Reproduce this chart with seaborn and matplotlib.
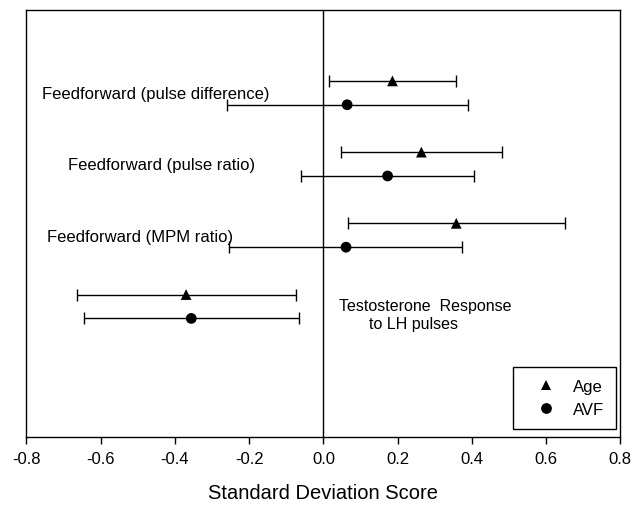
import numpy as np
import pandas as pd
import matplotlib
matplotlib.use("Agg")
import matplotlib.pyplot as plt
import seaborn as sns

# ---- data ----
measures = ["Feedforward (pulse difference)", "Feedforward (pulse ratio)",
            "Feedforward (MPM ratio)", "Testosterone Response to LH pulses"]
age_mean = [0.186, 0.264, 0.358, -0.370]
age_low = [0.016, 0.047, 0.067, -0.663]
age_high = [0.357, 0.481, 0.651, -0.074]
avf_mean = [0.064, 0.173, 0.061, -0.356]
avf_low = [-0.260, -0.060, -0.254, -0.644]
avf_high = [0.390, 0.405, 0.373, -0.066]
groups = ["Age", "AVF"]
xticks = [-0.8, -0.6, -0.4, -0.2, 0.0, 0.2, 0.4, 0.6, 0.8]

sns.set_style("white")
plt.rcParams['font.family'] = ['Liberation Sans', 'DejaVu Sans']
plt.rcParams['text.color'] = 'black'
plt.rcParams['axes.labelcolor'] = 'black'
plt.rcParams['xtick.color'] = 'black'
plt.rcParams['legend.labelcolor'] = 'black'

rows = []
for i, m in enumerate(measures):
    rows.append(dict(measure=m, group="Age", y=i + 1.0, x=age_mean[i], lo=age_low[i], hi=age_high[i]))
    rows.append(dict(measure=m, group="AVF", y=i + 1.335, x=avf_mean[i], lo=avf_low[i], hi=avf_high[i]))
df = pd.DataFrame(rows)

fig = plt.figure(figsize=(6.43, 5.06), dpi=100)
ax = fig.add_axes([0.0412, 0.1344, 0.9235, 0.8445])

ax.axvline(0, color="black", lw=1.0, zorder=1)
ax.errorbar(df["x"], df["y"], xerr=[df["x"] - df["lo"], df["hi"] - df["x"]],
            fmt="none", ecolor="black", elinewidth=1.0, capsize=4.2, capthick=1.0, zorder=2)
sns.scatterplot(data=df, x="x", y="y", style="group", markers={"Age": "^", "AVF": "o"},
                color="black", s=60, edgecolor="black", linewidth=0, ax=ax, zorder=3)

ax.set_xlim(-0.8, 0.8)
ax.set_ylim(6, 0)
ax.set_xticks(xticks)
ax.set_xticklabels([f"{t:.1f}" for t in xticks], fontsize=12, color="black")
ax.set_yticks([])
ax.set_ylabel("")
ax.set_xlabel("Standard Deviation Score", fontsize=14.5, labelpad=12, color="black")
ax.tick_params(axis="x", direction="out", length=5, width=1, color="black", pad=5, bottom=True)
for sp in ax.spines.values():
    sp.set_color("black")
    sp.set_linewidth(1.0)

# row labels
ax.text(-0.759, 1.18, measures[0], fontsize=12, va="center", ha="left", color="black")
ax.text(-0.687, 2.18, measures[1], fontsize=12, va="center", ha="left", color="black")
ax.text(-0.744, 3.18, measures[2], fontsize=12, va="center", ha="left", color="black")
ax.text(0.041, 4.15, "Testosterone  Response", fontsize=11.5, va="center", ha="left", color="black")
ax.text(0.124, 4.40, "to LH pulses", fontsize=11.5, va="center", ha="left", color="black")

handles, labels = ax.get_legend_handles_labels()
hl = [(h, l) for h, l in zip(handles, labels) if l in groups]
leg = ax.legend([h for h, _ in hl], [l for _, l in hl], loc="lower right",
                bbox_to_anchor=(0.993, 0.019), fontsize=12, frameon=True, fancybox=False,
                edgecolor="black", framealpha=1, borderpad=0.72, handlelength=2.5,
                handletextpad=0.36, labelspacing=0.5, borderaxespad=0)
leg.get_frame().set_linewidth(1.0)
for t in leg.get_texts():
    t.set_color("black")

fig.savefig("out.png", dpi=100)
